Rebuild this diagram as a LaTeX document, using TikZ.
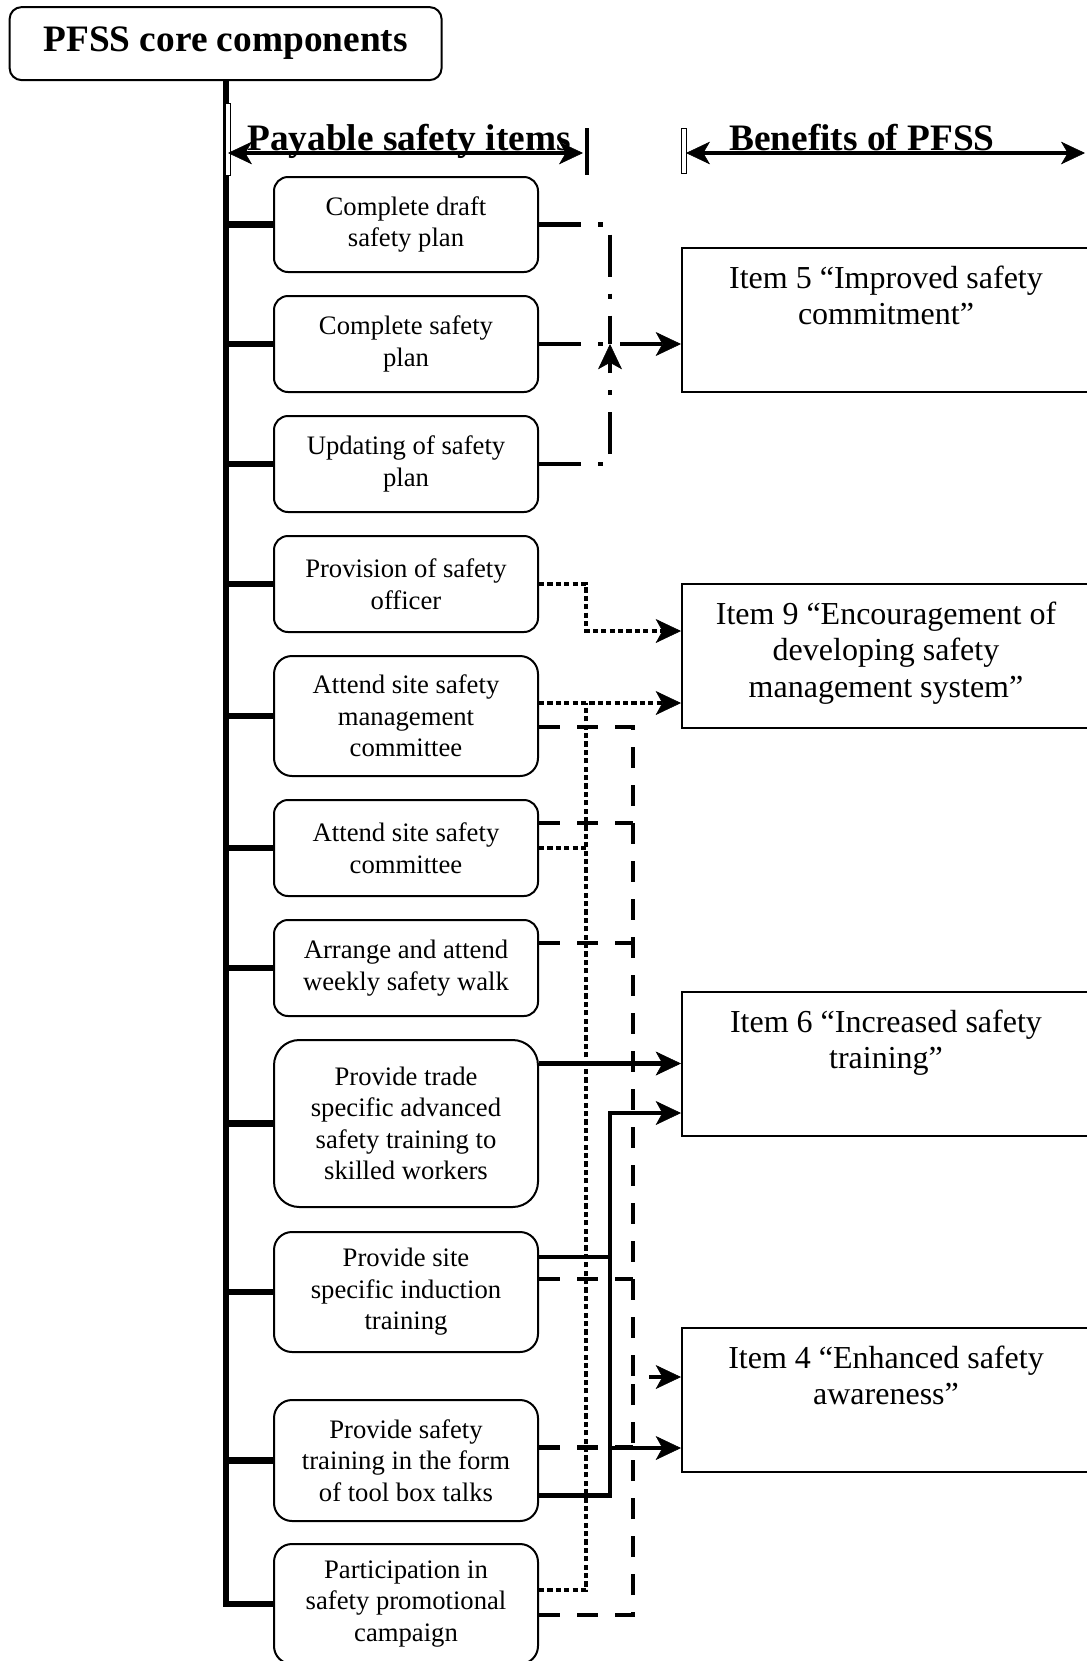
\documentclass[tikz,border=0pt]{standalone}
\usepackage{fontspec}
\setmainfont{Liberation Serif}
\usetikzlibrary{arrows.meta,calc}
\begin{document}
\begin{tikzpicture}[x=0.75pt,y=-0.75pt,
  itembox/.style={draw, line width=1.5pt, rounded corners=10.5pt, minimum width=198pt, align=center, inner sep=0pt, font=\fontsize{20}{23.6}\selectfont},
  benbox/.style={draw, line width=1.5pt, minimum width=306pt, minimum height=108pt, inner sep=0pt},
  bentext/.style={align=center, inner sep=0pt, anchor=north, font=\fontsize{24}{27.5}\selectfont},
  headtext/.style={anchor=base, inner sep=0pt, font=\fontsize{28}{32}\selectfont\bfseries},
  trunk/.style={line width=4.6pt},
  conn/.style={line width=3.5pt},
  arrowto/.style={-{Stealth[length=19pt,width=18pt,inset=5pt,line width=0.4pt]}},
  harrow/.style={line width=3pt, {Stealth[length=18pt,width=17pt,inset=5pt,line width=0.4pt]}-{Stealth[length=18pt,width=17pt,inset=5pt,line width=0.4pt]}},
  dashdotline/.style={conn, dash pattern=on 31.5pt off 12.75pt on 3.75pt off 12.75pt},
  dottedline/.style={conn, dash pattern=on 3.9pt off 2.4pt},
  dashedline/.style={conn, dash pattern=on 15.75pt off 12.75pt},
  solidline/.style={conn},
  thinbar/.style={line width=0.5pt, fill=white},
]
\useasboundingbox (0,0) rectangle (1087,1661);

% title
\node[draw, line width=1.5pt, rounded corners=9pt, minimum width=324pt, minimum height=54.75pt, inner sep=0pt,
      font=\fontsize{28}{32}\selectfont\bfseries] (title) at (225.6,43.6) {PFSS core components};

% items
\node[itembox, minimum height=71.25pt] (i1) at (406,224.5) {Complete draft\\safety plan};
\node[itembox, minimum height=72pt] (i2) at (406,344) {Complete safety\\plan};
\node[itembox, minimum height=72pt] (i3) at (406,464) {Updating of safety\\plan};
\node[itembox, minimum height=72pt] (i4) at (406,584) {Provision of safety\\officer};
\node[itembox, minimum height=90pt, rounded corners=13.5pt] (i5) at (406,716) {Attend site safety\\management\\committee};
\node[itembox, minimum height=72pt] (i6) at (406,848) {Attend site safety\\committee};
\node[itembox, minimum height=72pt] (i7) at (406,968) {Arrange and attend\\weekly safety walk};
\node[itembox, minimum height=125.25pt, rounded corners=19pt] (i8) at (406,1123.5) {Provide trade\\specific advanced\\safety training to\\skilled workers};
\node[itembox, minimum height=90pt, rounded corners=13.5pt] (i9) at (406,1292) {Provide site\\specific induction\\training};
\node[itembox, minimum height=90.75pt, rounded corners=13.5pt] (i10) at (406,1460.5) {Provide safety\\training in the form\\of tool box talks};
\node[itembox, minimum height=90pt, rounded corners=13.5pt] (i11) at (406,1604) {Participation in\\safety promotional\\campaign};

% benefits
\node[benbox] (b5) at (886,320) {};
\node[bentext] (b5t) at ($(b5.north)+(0,18.5)$) {Item 5 “Improved safety\\commitment”};
\node[benbox] (b9) at (886,656) {};
\node[bentext] (b9t) at ($(b9.north)+(0,18.5)$) {Item 9 “Encouragement of\\developing safety\\management system”};
\node[benbox] (b6) at (886,1064) {};
\node[bentext] (b6t) at ($(b6.north)+(0,18.5)$) {Item 6 “Increased safety\\training”};
\node[benbox] (b4) at (886,1400) {};
\node[bentext] (b4t) at ($(b4.north)+(0,18.5)$) {Item 4 “Enhanced safety\\awareness”};

% trunk and branches
\draw[trunk] (title.south) -- (title.south |- i11.west) -- (i11.west);
\foreach \n in {1,...,10} \draw[trunk] (title.south |- i\n.west) -- (i\n.west);

% headers
\draw[thinbar] (225,103) rectangle (230.5,175);
\coordinate (h1l) at (228,153);
\coordinate (h1r) at (583,153);
\draw[harrow] (h1l) -- (h1r);
\draw[line width=3pt] (587,128) -- (587,175);
\node[headtext] (h1) at (409,150) {Payable safety items};
\draw[thinbar] (681,128) rectangle (686,173);
\coordinate (h2l) at (686,153);
\coordinate (h2r) at (1085,153);
\draw[harrow] (h2l) -- (h2r);
\node[headtext] (h2) at (862,150) {Benefits of PFSS};

% bus positions
\coordinate (busA) at (610,0);
\coordinate (busD) at (586,0);
\coordinate (busE) at (633,0);
\coordinate (busS) at (610,0);

% dash-dot group -> Item 5
\coordinate (jA) at (i2.east -| busA);
\draw[dashdotline] (i1.east) -- (i1.east -| busA) -- (jA);
\draw[dashdotline, arrowto] (i2.east) -- (i2.east -| b5.west);
\draw[dashdotline, arrowto] (i3.east) -- (i3.east -| busA) -- (jA);

% dashed group -> Item 4
\coordinate (s5dash) at ($(i5.east)+(0,11)$);
\coordinate (s11dash) at ($(i11.east)+(0,11)$);
\coordinate (b4in1) at ($(b4.west)+(0,-23)$);
\coordinate (s6dash) at ($(i6.east)+(0,-25)$);
\coordinate (s7dash) at ($(i7.east)+(0,-25)$);
\coordinate (s9dash) at ($(i9.east)+(0,-13)$);
\coordinate (s10dash) at ($(i10.east)+(0,-13)$);
\draw[dashedline, arrowto] (s5dash) -| (b4in1 -| busE) -- (b4in1);
\draw[dashedline] (s11dash) -| (b4in1 -| busE);
\draw[dashedline] (s6dash) -- (s6dash -| busE);
\draw[dashedline] (s7dash) -- (s7dash -| busE);
\draw[dashedline] (s9dash) -- (s9dash -| busE);
\draw[dashedline] (s10dash) -- (s10dash -| busE);

% dotted group -> Item 9
\coordinate (b9in1) at ($(b9.west)+(0,-25)$);
\coordinate (s5dot) at ($(i5.east)+(0,-13)$);
\coordinate (s11dot) at ($(i11.east)+(0,-14)$);
\draw[dottedline, arrowto] (i4.east) -| (b9in1 -| busD) -- (b9in1);
\draw[dottedline, arrowto] (s5dot) -- (s5dot -| b9.west);
\draw[dottedline] (s11dot) -| (s5dot -| busD);
\draw[dottedline] (i6.east) -- (i6.east -| busD);

% solid group -> Item 6 and Item 4
\coordinate (s8sol) at ($(i8.east)+(0,-60)$);
\coordinate (b6in2) at ($(b6.west)+(0,49)$);
\coordinate (s9sol) at ($(i9.east)+(0,-35)$);
\coordinate (s10sol) at ($(i10.east)+(0,35)$);
\coordinate (b4in2) at ($(b4.west)+(0,48)$);
\draw[solidline, arrowto] (s8sol) -- (s8sol -| b6.west);
\draw[solidline, arrowto] (s10sol) -| (b6in2 -| busS) -- (b6in2);
\draw[solidline] (s9sol) -- (s9sol -| busS);
\draw[solidline, arrowto] (b4in2 -| busS) -- (b4in2);
\end{tikzpicture}
\end{document}
